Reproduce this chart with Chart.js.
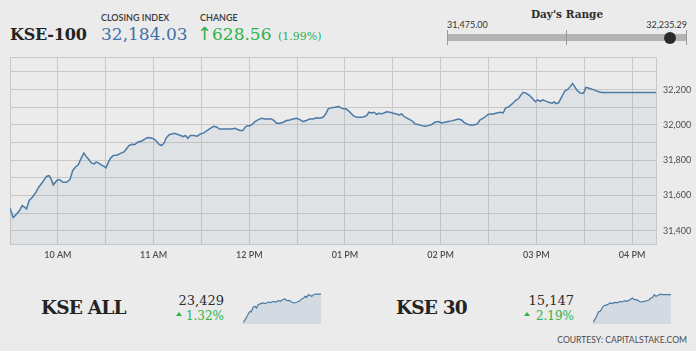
<!DOCTYPE html>
<html>
<head>
<meta charset="utf-8">
<title>KSE-100</title>
<script src="https://cdn.jsdelivr.net/npm/chart.js@4.4.0/dist/chart.umd.min.js"></script>
<style>
    html, body {
        margin: 0;
        padding: 0;
    }
    body {
        width: 696px;
        height: 351px;
        background: #ebebeb;
        position: relative;
        overflow: hidden;
        font-family: Lato, "Open Sans", sans-serif;
    }
    .abs {
        position: absolute;
        white-space: nowrap;
        line-height: 1;
    }
    .serif {
        font-family: "DejaVu Serif", serif;
    }
    .label {
        font-size: 9px;
        color: #3a3a3a;
        font-weight: 600;
    }
    .green { color: #2eb24a; }
    .right { text-align: right; }
    .tri {
        position: absolute;
        width: 0;
        height: 0;
        border-left: 3px solid transparent;
        border-right: 3px solid transparent;
        border-bottom: 4px solid #2eb24a;
    }
    .tick {
        position: absolute;
        width: 1px;
        background: #9a9a9a;
    }
    #mainWrap {
        position: absolute;
        left: 0;
        top: 0;
        width: 696px;
        height: 265px;
    }
    .spark {
        position: absolute;
        top: 292px;
        width: 78px;
        height: 32px;
    }
</style>
</head>
<body>

<!-- Header -->
<div class="abs serif" style="left:10px; top:26.5px; font-size:16px; font-weight:bold; color:#232323; letter-spacing:-0.2px;">KSE-100</div>
<div class="abs label" style="left:101px; top:13px;">CLOSING INDEX</div>
<div class="abs serif" style="left:101px; top:25.5px; font-size:17px; color:#3d72aa;">32,184.03</div>
<div class="abs label" style="left:200px; top:13px;">CHANGE</div>
<div class="abs green" style="left:197px; top:25px; font-size:18px; font-family:'DejaVu Sans', sans-serif;">↑</div>
<div class="abs serif green" style="left:212px; top:25.5px; font-size:17px;">628.56</div>
<div class="abs serif green" style="left:278px; top:31px; font-size:11px;">(1.99%)</div>

<!-- Day's range -->
<div class="abs serif" style="left:500px; width:134px; text-align:center; top:8.5px; font-size:10.5px; font-weight:bold; color:#2d2d2d;">Day's Range</div>
<div class="abs" style="left:447px; top:20px; font-size:9px; color:#333;">31,475.00</div>
<div class="abs right" style="left:607px; width:80px; top:20px; font-size:9px; color:#333;">32,235.29</div>
<div class="abs" style="left:447px; top:33.5px; width:240px; height:7px; background:#b3b3b3;"></div>
<div class="tick" style="left:447px; top:30px; height:15px;"></div>
<div class="tick" style="left:566px; top:30px; height:15px;"></div>
<div class="tick" style="left:686px; top:30px; height:15px;"></div>
<div class="abs" style="left:664px; top:31.5px; width:12px; height:12px; border-radius:50%; background:#2a2a2a;"></div>

<!-- Main chart -->
<div id="mainWrap"><canvas id="mainChart"></canvas></div>

<!-- Bottom tiles -->
<div class="abs serif" style="left:41px; top:298.5px; font-size:18.5px; font-weight:bold; color:#232323; letter-spacing:-0.8px;">KSE ALL</div>
<div class="abs serif right" style="left:164px; width:60px; top:294px; font-size:13px; color:#2d2d2d;">23,429</div>
<div class="tri" style="left:176px; top:312px;"></div>
<div class="abs serif green right" style="left:164px; width:60px; top:309.5px; font-size:12px;">1.32%</div>
<div class="spark" style="left:243px;"><canvas id="sparkAll"></canvas></div>

<div class="abs serif" style="left:396px; top:298.5px; font-size:18.5px; font-weight:bold; color:#232323; letter-spacing:-0.8px;">KSE 30</div>
<div class="abs serif right" style="left:514px; width:60px; top:294px; font-size:13px; color:#2d2d2d;">15,147</div>
<div class="tri" style="left:524px; top:312px;"></div>
<div class="abs serif green right" style="left:514px; width:60px; top:309.5px; font-size:12px;">2.19%</div>
<div class="spark" style="left:593px;"><canvas id="spark30"></canvas></div>

<div class="abs right" style="left:487px; width:200px; top:336px; font-size:8.6px; color:#4a4a4a;">COURTESY: CAPITALSTAKE.COM</div>

<script>
// KSE-100 intraday, time in minutes after midnight (570 = 09:30)
const kseTimes = [
    570, 572, 574.3, 576, 577.6, 579, 580.4, 582, 584, 586.3, 588, 590.7, 592.8, 594.6, 595.7, 597.2, 599.3,
    601, 603.3, 605.4, 607.6, 609.3, 610.9, 612.8, 614.6, 616.3, 617.4, 619, 621, 622.8, 624, 625.4, 627.2,
    628.7, 630.2, 631.5, 633, 634.6, 637.4, 639.6, 641.7, 643.3, 644.6, 646.3, 648.3, 650, 652.6, 654.8,
    656.3, 658.5, 660.2, 662, 663.5, 665, 666.7, 667.8, 669.6, 670.7, 673.2, 674.8, 676.9, 678.6, 680,
    681.5, 683.1, 685.2, 687.3, 689.4, 691.5, 693.5, 695.6, 697.7, 699.8, 701.2, 706, 709.1, 711.2, 712.6,
    714.3, 715.9, 717.4, 718.8, 720.5, 722.2, 723.6, 725.7, 727.8, 729.9, 734, 735.5, 737.1, 739.2, 741.3,
    743.4, 745.4, 747.5, 749.6, 751.7, 753.7, 755.8, 757.9, 760, 762.1, 764.1, 766.2, 767.9, 769.5, 771.6,
    773.7, 775.8, 777.3, 778.9, 780.6, 782.1, 783.6, 785.2, 787.3, 789.4, 791.5, 793.6, 795, 796.7, 798.2,
    799.9, 801.3, 803, 804.5, 806.1, 808.2, 810.3, 812.3, 814, 815.5, 816.9, 818.6, 820.7, 822.4, 823.9,
    826, 828, 830.2, 832.2, 834.3, 836.4, 838.5, 840.6, 842.7, 844.8, 846.9, 849, 851, 853.1, 854.6, 856.3,
    858.4, 860.5, 863, 864.6, 866.7, 868.4, 869.3, 870.9, 873, 875.1, 877.6, 879.2, 880.7, 882.8, 884.8,
    886.9, 889, 890, 891.7, 893.8, 895.8, 897.9, 899.4, 900.8, 902.5, 904.2, 905.6, 907.7, 909.8, 911.2,
    912.5, 913.9, 915.4, 916.6, 918.1, 919.5, 921.2, 922.7, 924.3, 925.7, 927.4, 929.1, 930.1, 930.9,
    932.6, 935.7, 938.8, 940.9, 975
];
const kseValues = [
    31528, 31475, 31496, 31515, 31543, 31534, 31524, 31572, 31590, 31619, 31647, 31679, 31708, 31713, 31694, 31660, 31685,
    31690, 31675, 31675, 31690, 31741, 31760, 31774, 31811, 31841, 31826, 31808, 31785, 31779, 31789, 31785, 31774,
    31766, 31757, 31785, 31811, 31826, 31830, 31840, 31849, 31868, 31883, 31890, 31889, 31902, 31909, 31921,
    31928, 31926, 31921, 31906, 31889, 31883, 31898, 31924, 31943, 31947, 31953, 31947, 31940, 31934, 31940,
    31924, 31940, 31940, 31936, 31949, 31955, 31968, 31981, 31992, 31987, 31977, 31977, 31977, 31981, 31974,
    31968, 31968, 31987, 31996, 31996, 32006, 32019, 32030, 32038, 32034, 32034, 32025, 32009, 32009, 32015,
    32025, 32028, 32034, 32038, 32030, 32019, 32025, 32034, 32034, 32040, 32038, 32043, 32062, 32091, 32098,
    32100, 32104, 32098, 32091, 32091, 32081, 32068, 32053, 32043, 32043, 32045, 32053, 32072, 32068, 32072,
    32060, 32066, 32064, 32068, 32075, 32072, 32066, 32062, 32057, 32062, 32049, 32040, 32030, 32021, 32006,
    32002, 31996, 31992, 31996, 32002, 32015, 32019, 32011, 32015, 32019, 32023, 32028, 32034, 32028, 32015, 32006,
    32000, 32000, 32006, 32028, 32038, 32049, 32057, 32062, 32062, 32068, 32072, 32068, 32096, 32104, 32119,
    32138, 32151, 32166, 32185, 32179, 32166, 32147, 32132, 32142, 32134, 32142, 32136, 32128, 32123, 32130,
    32121, 32125, 32151, 32172, 32194, 32200, 32217, 32235, 32213, 32194, 32181, 32179, 32189, 32213,
    32209, 32200, 32189, 32184, 32184
];

// x axis: half-hour grid, labels on the hour
const xGridTimes = [570, 600, 630, 660, 690, 720, 750, 780, 810, 840, 870, 900, 930, 960, 975];
const hourTicks = [600, 660, 720, 780, 840, 900, 960];
const hourLabels = ['10 AM', '11 AM', '12 PM', '01 PM', '02 PM', '03 PM', '04 PM'];

// y axis
const yMin = 31325;
const yMax = 32385;
const yGridValues = [31325, 31400, 31500, 31600, 31700, 31800, 31900, 32000, 32100, 32200, 32300, 32385];
const yLabelValues = [31400, 31600, 31800, 32000, 32200];

// KSE ALL sparkline
const allTimes = [570, 579, 591, 600, 607, 613, 622, 631, 640, 648, 662, 674, 687, 700, 714, 727, 739, 753, 765,
    775, 788, 800, 810, 822, 834, 848, 861, 875, 885, 892, 901, 909, 918, 927, 935, 948, 962, 975];
const allValues = [23105, 23128, 23174, 23212, 23231, 23224, 23277, 23289, 23270, 23308, 23319, 23327, 23319, 23338,
    23331, 23346, 23338, 23354, 23346, 23365, 23373, 23354, 23357, 23338, 23327, 23335, 23346, 23373, 23384,
    23403, 23392, 23422, 23415, 23403, 23422, 23430, 23429, 23429];

// KSE 30 sparkline
const k30Times = [570, 579, 589, 598, 607, 613, 622, 633, 645, 659, 671, 683, 697, 711, 723, 735, 749, 761, 775,
    784, 796, 810, 822, 836, 850, 862, 871, 880, 888, 897, 909, 920, 932, 975];
const k30Values = [14798, 14832, 14874, 14929, 14937, 14958, 15000, 15013, 15021, 15042, 15034, 15050, 15046, 15063,
    15055, 15071, 15063, 15084, 15105, 15084, 15084, 15063, 15055, 15063, 15071, 15084, 15105, 15113, 15147,
    15126, 15139, 15155, 15147, 15147];

const lineColor = '#4a7aa7';
const fillColor = 'rgba(74, 122, 167, 0.08)';
const gridColor = '#c8c8c8';

document.addEventListener('DOMContentLoaded', function() {
    initializeMainChart();
    initializeSparkline('sparkAll', allTimes, allValues, 23086, 23453);
    initializeSparkline('spark30', k30Times, k30Values, 14777, 15181);
});

function toPoints(xs, ys) {
    return xs.map((x, i) => ({ x: x, y: ys[i] }));
}

function initializeMainChart() {
    const ctx = document.getElementById('mainChart');
    if (!ctx) return;

    new Chart(ctx, {
        type: 'line',
        data: {
            datasets: [{
                data: toPoints(kseTimes, kseValues),
                borderColor: lineColor,
                backgroundColor: fillColor,
                borderWidth: 1.5,
                pointRadius: 0,
                tension: 0,
                fill: 'start'
            }]
        },
        options: {
            responsive: true,
            maintainAspectRatio: false,
            animation: false,
            layout: {
                padding: { top: 57, left: 10, right: 0, bottom: 0 }
            },
            plugins: {
                legend: { display: false },
                tooltip: { enabled: false }
            },
            scales: {
                x: {
                    type: 'linear',
                    min: xGridTimes[0],
                    max: xGridTimes[xGridTimes.length - 1],
                    afterBuildTicks: scale => {
                        scale.ticks = xGridTimes.map(v => ({ value: v }));
                    },
                    afterFit: scale => { scale.height = 21; },
                    grid: { color: gridColor, lineWidth: 1, drawTicks: false },
                    border: { color: gridColor },
                    ticks: {
                        autoSkip: false,
                        maxRotation: 0,
                        padding: 6,
                        color: '#4d4d4d',
                        font: { family: 'Lato', size: 9, weight: '600' },
                        callback: value => {
                            const i = hourTicks.indexOf(value);
                            return i >= 0 ? hourLabels[i] : '';
                        }
                    }
                },
                y: {
                    position: 'right',
                    min: yMin,
                    max: yMax,
                    afterBuildTicks: scale => {
                        scale.ticks = yGridValues.map(v => ({ value: v }));
                    },
                    afterFit: scale => { scale.width = 40; },
                    grid: { color: gridColor, lineWidth: 1, drawTicks: false },
                    border: { color: gridColor },
                    ticks: {
                        autoSkip: false,
                        padding: 7,
                        color: '#4d4d4d',
                        font: { family: 'Lato', size: 9 },
                        callback: value => yLabelValues.includes(value) ? value.toLocaleString('en-US') : ''
                    }
                }
            }
        }
    });
}

function initializeSparkline(id, xs, ys, min, max) {
    const ctx = document.getElementById(id);
    if (!ctx) return;

    new Chart(ctx, {
        type: 'line',
        data: {
            datasets: [{
                data: toPoints(xs, ys),
                borderColor: lineColor,
                backgroundColor: 'rgba(74, 122, 167, 0.15)',
                borderWidth: 1.2,
                pointRadius: 0,
                tension: 0,
                fill: 'start'
            }]
        },
        options: {
            responsive: true,
            maintainAspectRatio: false,
            animation: false,
            plugins: {
                legend: { display: false },
                tooltip: { enabled: false }
            },
            scales: {
                x: { type: 'linear', display: false, min: 570, max: 975 },
                y: { display: false, min: min, max: max }
            }
        }
    });
}
</script>
</body>
</html>
